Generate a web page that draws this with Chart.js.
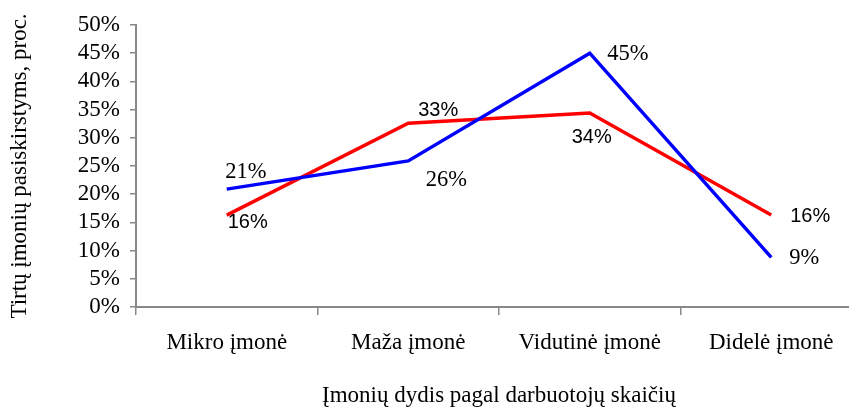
<!DOCTYPE html>
<html>
<head>
<meta charset="utf-8">
<script src="https://cdn.jsdelivr.net/npm/chart.js@4/dist/chart.umd.min.js"></script>
<style>
  html, body { margin: 0; padding: 0; background: #fff; overflow: hidden; }
  #wrap { position: relative; width: 870px; height: 410px; }
</style>
</head>
<body>
<div id="wrap"><canvas id="c"></canvas></div>
<script>
// ---- data ----
const categories = ["Mikro įmonė", "Maža įmonė", "Vidutinė įmonė", "Didelė įmonė"];
const blueValues = [20.9, 25.9, 45.0, 8.8];
const redValues  = [16.3, 32.6, 34.4, 16.3];
const yTicks = [0, 5, 10, 15, 20, 25, 30, 35, 40, 45, 50];
const xTitle = "Įmonių dydis pagal darbuotojų skaičių";
const yTitle = "Tirtų įmonių pasiskirstyms, proc.";

// ---- label styling (offsets from point: text centre x, baseline y) ----
const labelStyles = [
  { font: "22.5px 'Liberation Serif'", offsets: [[19, -11], [38, 25], [38, 7], [33, 7]] },
  { font: "20px 'Liberation Sans'",  offsets: [[21, 13], [30, -7.5], [2, 30], [39, 7]] }
];

const pointLabels = {
  id: 'pointLabels',
  afterDatasetsDraw(chart) {
    const ctx = chart.ctx;
    chart.data.datasets.forEach((ds, di) => {
      const meta = chart.getDatasetMeta(di);
      const st = labelStyles[di];
      ctx.save();
      ctx.font = st.font;
      ctx.fillStyle = '#000';
      ctx.textAlign = 'center';
      ctx.textBaseline = 'alphabetic';
      meta.data.forEach((pt, i) => {
        const v = ds.data[i];
        const o = st.offsets[i];
        ctx.fillText(Math.round(v) + '%', pt.x + o[0], pt.y + o[1]);
      });
      ctx.restore();
    });
  }
};

const axisColor = '#888888';
const serif = { family: "'Liberation Serif', 'Times New Roman', serif", size: 23 };

new Chart(document.getElementById('c'), {
  type: 'line',
  data: {
    labels: categories,
    datasets: [
      { label: 'Serija 1', data: blueValues, borderColor: '#0000FF', borderWidth: 3.5,
        pointRadius: 0, pointHoverRadius: 0, tension: 0, fill: false },
      { label: 'Serija 2', data: redValues, borderColor: '#FF0000', borderWidth: 3.5,
        pointRadius: 0, pointHoverRadius: 0, tension: 0, fill: false }
    ]
  },
  options: {
    responsive: true,
    maintainAspectRatio: false,
    animation: false,
    events: [],
    layout: { padding: { top: 25, right: 8, left: 0, bottom: 0 } },
    plugins: { legend: { display: false }, tooltip: { enabled: false } },
    scales: {
      x: {
        type: 'category',
        offset: true,
        grid: { display: true, offset: true, drawOnChartArea: false, drawTicks: true,
                tickLength: 8, color: axisColor, lineWidth: 1.5 },
        border: { display: true, color: axisColor, width: 2 },
        ticks: { color: '#000', font: serif, padding: 14, maxRotation: 0, autoSkip: false },
        title: { display: true, text: xTitle, color: '#000', font: serif,
                 padding: { top: 0, bottom: 0 } },
        afterFit(scale) { scale.height = 103; }
      },
      y: {
        min: 0, max: 50,
        afterBuildTicks(scale) { scale.ticks = yTicks.map(v => ({ value: v })); },
        grid: { display: true, drawOnChartArea: false, drawTicks: true,
                tickLength: 6, color: axisColor, lineWidth: 1.5 },
        border: { display: true, color: axisColor, width: 2 },
        ticks: { color: '#000', font: serif, padding: 10, autoSkip: false,
                 callback: v => v + '%' },
        title: { display: true, text: yTitle, color: '#000', font: serif,
                 padding: { top: 6, bottom: 0 } },
        afterFit(scale) { scale.width = 136; }
      }
    }
  },
  plugins: [pointLabels]
});
</script>
</body>
</html>
